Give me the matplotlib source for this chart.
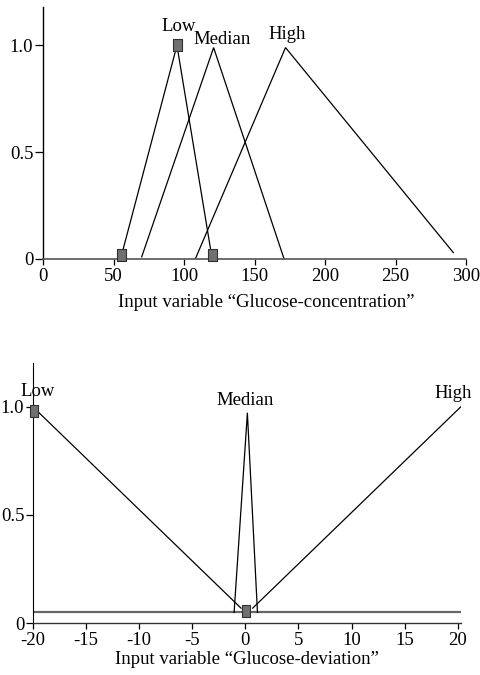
import matplotlib
matplotlib.use("Agg")
import matplotlib.pyplot as plt

plt.rcParams['font.family'] = ['Liberation Serif', 'DejaVu Serif']

# ---- data: top chart (Glucose-concentration) ----
conc_low_x = [55, 95, 120]
conc_low_y = [0.0, 1.0, 0.0]
conc_med_x = [70, 121, 171]
conc_med_y = [0.01, 0.99, 0.0]
conc_high_x = [108, 172, 291]
conc_high_y = [0.0, 0.99, 0.03]
conc_marker_x = [55, 95, 120]
conc_marker_y = [0.02, 1.0, 0.02]
conc_labels = ["Low", "Median", "High"]
conc_label_x = [96, 127, 173]
conc_label_y = [1.09, 1.03, 1.05]
conc_xticks = [0, 50, 100, 150, 200, 250, 300]
conc_yticks = [0, 0.5, 1.0]
conc_yticklabels = ["0", "0.5", "1.0"]

# ---- data: bottom chart (Glucose-deviation) ----
dev_low_x = [-20, -0.4]
dev_low_y = [1.0, 0.07]
dev_med_x = [-1.05, 0.2, 1.15]
dev_med_y = [0.05, 0.97, 0.05]
dev_high_x = [0.7, 20.3]
dev_high_y = [0.07, 1.0]
dev_base_x = [-20, 20.3]
dev_base_y = [0.05, 0.05]
dev_marker_x = [-19.85, 0.05]
dev_marker_y = [0.98, 0.057]
dev_labels = ["Low", "Median", "High"]
dev_label_x = [-19.5, 0.0, 19.6]
dev_label_y = [1.07, 1.03, 1.06]
dev_xticks = [-20, -15, -10, -5, 0, 5, 10, 15, 20]
dev_yticks = [0, 0.5, 1.0]
dev_yticklabels = ["0", "0.5", "1.0"]

FS = 13.5
marker_verts = [(-0.36, -0.5), (0.36, -0.5), (0.36, 0.5), (-0.36, 0.5), (-0.36, -0.5)]

fig = plt.figure(figsize=(4.8, 6.75), dpi=100)

# ---------- top ----------
ax1 = fig.add_axes([43/480, 1 - 259/675, 423/480, (259 - 7)/675])
for xs, ys in [(conc_low_x, conc_low_y), (conc_med_x, conc_med_y), (conc_high_x, conc_high_y)]:
    ax1.plot(xs, ys, color='black', lw=0.9, solid_joinstyle='miter')
ax1.plot(conc_marker_x, conc_marker_y, linestyle='none', marker=marker_verts,
         markersize=9, markerfacecolor='#707070', markeredgecolor='#303030',
         markeredgewidth=0.8, clip_on=False, zorder=5)
for t, x, y in zip(conc_labels, conc_label_x, conc_label_y):
    ax1.text(x, y, t, ha='center', va='center', fontsize=FS)
ax1.set_xlim(0, 300)
ax1.set_ylim(0, 1.18)
ax1.set_xticks(conc_xticks)
ax1.set_xticklabels([str(v) for v in conc_xticks])
ax1.set_yticks(conc_yticks)
ax1.set_yticklabels(conc_yticklabels)
ax1.spines['top'].set_visible(False)
ax1.spines['right'].set_visible(False)
ax1.spines['bottom'].set_color('#555555')
ax1.spines['bottom'].set_linewidth(1.2)
ax1.spines['left'].set_linewidth(1.0)
ax1.tick_params(axis='y', direction='out', length=6, width=0.9, pad=1, labelsize=FS)
ax1.tick_params(axis='x', direction='out', length=4.5, width=0.9, pad=2, labelsize=FS)
ax1.set_xlabel("Input variable \u201cGlucose-concentration\u201d", fontsize=FS)
ax1.xaxis.set_label_coords(0.527, -0.14)

# ---------- bottom ----------
ax2 = fig.add_axes([32.7/480, 1 - 623.3/675, (461 - 32.7)/480, (623.3 - 363.3)/675])
ax2.plot(dev_base_x, dev_base_y, color='#666666', lw=1.6)
for xs, ys in [(dev_low_x, dev_low_y), (dev_med_x, dev_med_y), (dev_high_x, dev_high_y)]:
    ax2.plot(xs, ys, color='black', lw=0.9)
ax2.plot(dev_marker_x, dev_marker_y, linestyle='none', marker=marker_verts,
         markersize=8, markerfacecolor='#707070', markeredgecolor='#303030',
         markeredgewidth=0.8, clip_on=False, zorder=5)
for t, x, y in zip(dev_labels, dev_label_x, dev_label_y):
    ax2.text(x, y, t, ha='center', va='center', fontsize=FS)
ax2.set_xlim(-20, 20.3)
ax2.set_ylim(0, 1.2)
ax2.set_xticks(dev_xticks)
ax2.set_xticklabels([str(v) for v in dev_xticks])
ax2.set_yticks(dev_yticks)
ax2.set_yticklabels(dev_yticklabels)
ax2.spines['top'].set_visible(False)
ax2.spines['right'].set_visible(False)
ax2.spines['bottom'].set_color('#333333')
ax2.spines['bottom'].set_linewidth(1.0)
ax2.tick_params(axis='y', direction='out', length=5, width=0.9, pad=1, labelsize=FS)
ax2.tick_params(axis='x', direction='out', length=4.5, width=0.9, pad=2, labelsize=FS)
ax2.set_xlabel("Input variable \u201cGlucose-deviation\u201d", fontsize=FS)
ax2.xaxis.set_label_coords(0.5, -0.105)

fig.savefig("out.png", dpi=100)
